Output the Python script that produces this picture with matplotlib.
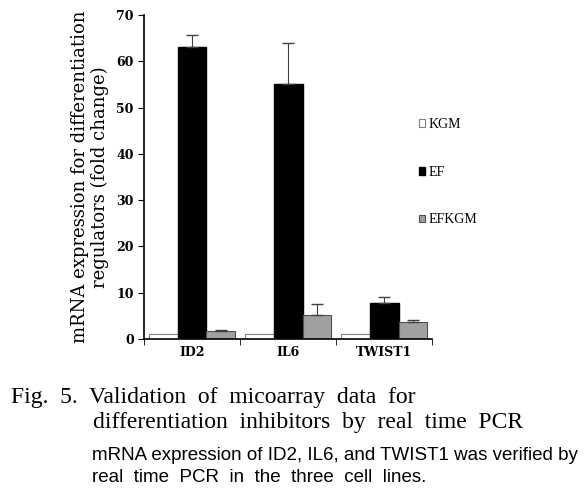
import matplotlib.pyplot as plt
import numpy as np

genes = ['ID2', 'IL6', 'TWIST1']
kgm = [1.0, 1.0, 1.0]
ef = [63.1, 55.1, 7.7]
ef_err = [2.7, 8.8, 1.3]
efkgm = [1.8, 5.2, 3.7]
efkgm_err = [0.2, 2.3, 0.4]

fig = plt.figure(figsize=(5.88, 4.92), dpi=100)
ax = fig.add_axes([0.245, 0.311, 0.49, 0.658])

x = np.arange(len(genes))
w = 0.3
ax.bar(x - w, kgm, w, color='white', edgecolor='#808080', linewidth=0.8, label='KGM')
ax.bar(x, ef, w, color='black', edgecolor='black', label='EF')
ax.bar(x + w, efkgm, w, color='#a0a0a0', edgecolor='#505050', linewidth=0.8, label='EFKGM')
ax.errorbar(x, ef, yerr=[np.zeros(3), ef_err], fmt='none', ecolor='#404040', capsize=4, elinewidth=0.8)
ax.errorbar(x + w, efkgm, yerr=[np.zeros(3), efkgm_err], fmt='none', ecolor='#404040', capsize=4, elinewidth=0.8)

ax.set_xlim(-0.5, 2.5)
ax.set_ylim(0, 70)
ax.set_yticks(range(0, 71, 10))
ax.set_xticks(x)
ax.set_xticklabels(genes, fontfamily='DejaVu Serif', fontsize=9, fontweight='bold')
ax.tick_params(axis='x', length=0, pad=5)
ax.set_xticks([-0.5, 0.5, 1.5, 2.5], minor=True)
ax.tick_params(axis='x', which='minor', length=4, direction='out')
ax.tick_params(axis='y', length=4, direction='out', labelsize=9)
for lab in ax.get_yticklabels():
    lab.set_fontfamily('DejaVu Serif')
    lab.set_fontweight('bold')
for s in ['top', 'right']:
    ax.spines[s].set_visible(False)
ax.spines['left'].set_linewidth(1.2)
ax.spines['bottom'].set_linewidth(1.2)

ax.set_ylabel('mRNA expression for differentiation\nregulators (fold change)',
              fontfamily='DejaVu Serif', fontsize=13, labelpad=5, linespacing=1.15)

ax.legend(loc='center left', bbox_to_anchor=(0.955, 0.515), frameon=False,
          borderaxespad=0, borderpad=0,
          handlelength=0.45, handleheight=0.45, handletextpad=0.2,
          labelspacing=2.5, prop={'family': 'Liberation Serif', 'size': 10})

# caption below the chart
fig.text(0.019, 0.181, 'Fig.  5.  Validation  of  micoarray  data  for',
         fontfamily='Liberation Serif', fontsize=17, va='baseline')
fig.text(0.158, 0.130, 'differentiation  inhibitors  by  real  time  PCR',
         fontfamily='Liberation Serif', fontsize=17, va='baseline')
fig.text(0.156, 0.065, 'mRNA expression of ID2, IL6, and TWIST1 was verified by',
         fontfamily='Liberation Sans', fontsize=13.5, va='baseline')
fig.text(0.156, 0.021, 'real  time  PCR  in  the  three  cell  lines.',
         fontfamily='Liberation Sans', fontsize=13.5, va='baseline')

fig.savefig('out.png', dpi=100)
